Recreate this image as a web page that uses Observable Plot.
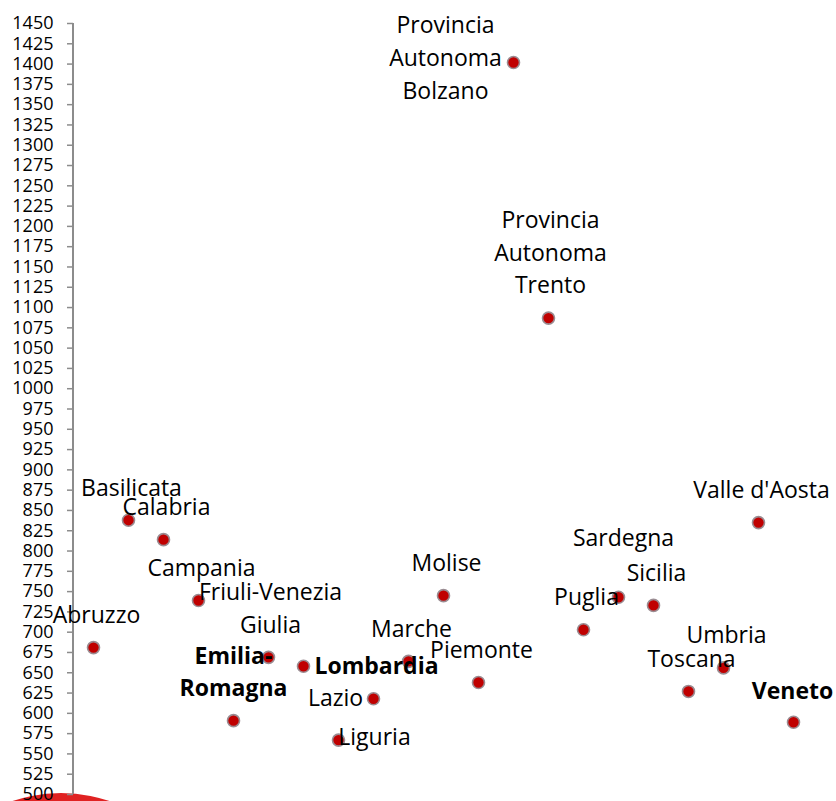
<!DOCTYPE html>
<html>
<head>
<meta charset="utf-8">
<script src="https://cdn.jsdelivr.net/npm/d3@7"></script>
<script src="https://cdn.jsdelivr.net/npm/@observablehq/plot@0.6"></script>
<style>
  html, body { margin: 0; padding: 0; background: white; overflow: hidden; }
  #wrap { position: relative; width: 836px; height: 801px; overflow: hidden; }
  #blob { position: absolute; left: -90px; top: 793px; width: 302px; height: 302px; border-radius: 50%; background: #e02222; z-index: 0; }
  #chart { position: absolute; left: 0; top: 0; z-index: 1; }
  #chart [aria-label="y-axis tick label"] { fill: black; }
</style>
</head>
<body>
<div id="wrap"><div id="blob"></div><div id="chart"></div></div>
<script>
const regions = ["Abruzzo", "Basilicata", "Calabria", "Campania", "Emilia-Romagna",
  "Friuli-Venezia Giulia", "Lazio", "Liguria", "Lombardia", "Marche", "Molise", "Piemonte",
  "Provincia Autonoma Bolzano", "Provincia Autonoma Trento", "Puglia", "Sardegna", "Sicilia",
  "Toscana", "Umbria", "Valle d'Aosta", "Veneto"];
const values = [681, 838, 814, 739, 591, 669, 658, 567, 618, 664, 745, 638,
  1402, 1087, 703, 743, 733, 627, 656, 835, 589];
const labelText = ["Abruzzo", "Basilicata", "Calabria", "Campania", "Emilia-\nRomagna",
  "Friuli-Venezia\nGiulia", "Lazio", "Liguria", "Lombardia", "Marche", "Molise", "Piemonte",
  "Provincia\nAutonoma\nBolzano", "Provincia\nAutonoma\nTrento", "Puglia", "Sardegna", "Sicilia",
  "Toscana", "Umbria", "Valle d'Aosta", "Veneto"];
const boldRegions = ["Emilia-Romagna", "Lombardia", "Veneto"];
const yTicks = [500, 525, 550, 575, 600, 625, 650, 675, 700, 725, 750, 775, 800, 825, 850, 875,
  900, 925, 950, 975, 1000, 1025, 1050, 1075, 1100, 1125, 1150, 1175, 1200, 1225, 1250, 1275,
  1300, 1325, 1350, 1375, 1400, 1425, 1450];

// label placement (layout, not data)
const defaultOffset = {dx: 3, dy: -35};
const labelOffset = {
  "Emilia-Romagna": {dx: 0, dy: -51},
  "Friuli-Venezia Giulia": {dx: 2, dy: -51},
  "Lazio": {dx: 32, dy: 29},
  "Liguria": {dx: 36, dy: -6},
  "Provincia Autonoma Bolzano": {dx: -68, dy: -7},
  "Provincia Autonoma Trento": {dx: 2, dy: -68},
  "Sardegna": {dx: 5, dy: -62},
  "Veneto": {dx: -1, dy: -34}
};

const data = regions.map((r, i) => ({region: r, value: values[i], label: labelText[i]}));

const textMarks = data.map(d => {
  const o = labelOffset[d.region] || defaultOffset;
  return Plot.text([d], {
    x: "region", y: "value", text: "label",
    dx: o.dx, dy: o.dy,
    fontSize: 23, lineHeight: 1.42, lineAnchor: "middle", textAnchor: "middle",
    fill: "black",
    fontWeight: boldRegions.includes(d.region) ? "bold" : "normal"
  });
});

// vertical axis line along the left edge of the frame
function axisLine(index, scales, values, dimensions) {
  const ns = "http://www.w3.org/2000/svg";
  const line = document.createElementNS(ns, "line");
  const x = dimensions.marginLeft;
  line.setAttribute("x1", x);
  line.setAttribute("x2", x);
  line.setAttribute("y1", scales.y(yTicks[0]));
  line.setAttribute("y2", scales.y(yTicks[yTicks.length - 1]));
  line.setAttribute("stroke", "#8c8c8c");
  line.setAttribute("stroke-width", 2);
  return line;
}

const chart = Plot.plot({
  width: 836,
  height: 801,
  marginLeft: 73,
  marginRight: 0,
  marginTop: 23,
  marginBottom: 7,
  style: {fontFamily: "'Open Sans', sans-serif", background: "transparent", overflow: "visible"},
  x: {type: "point", domain: regions, range: [91, 794], padding: 0, axis: null},
  y: {domain: [500, 1450], axis: null},
  marks: [
    Plot.axisY({ticks: yTicks, tickFormat: d => String(d), tickSize: 6, tickPadding: 14,
      fontSize: 18, stroke: "#8c8c8c", strokeWidth: 1.5, label: null}),
    axisLine,
    Plot.dot(data, {x: "region", y: "value", r: 6, fill: "#c00000", stroke: "#9a8c92", strokeWidth: 1.6}),
    ...textMarks
  ]
});
document.getElementById("chart").appendChild(chart);
</script>
</body>
</html>
